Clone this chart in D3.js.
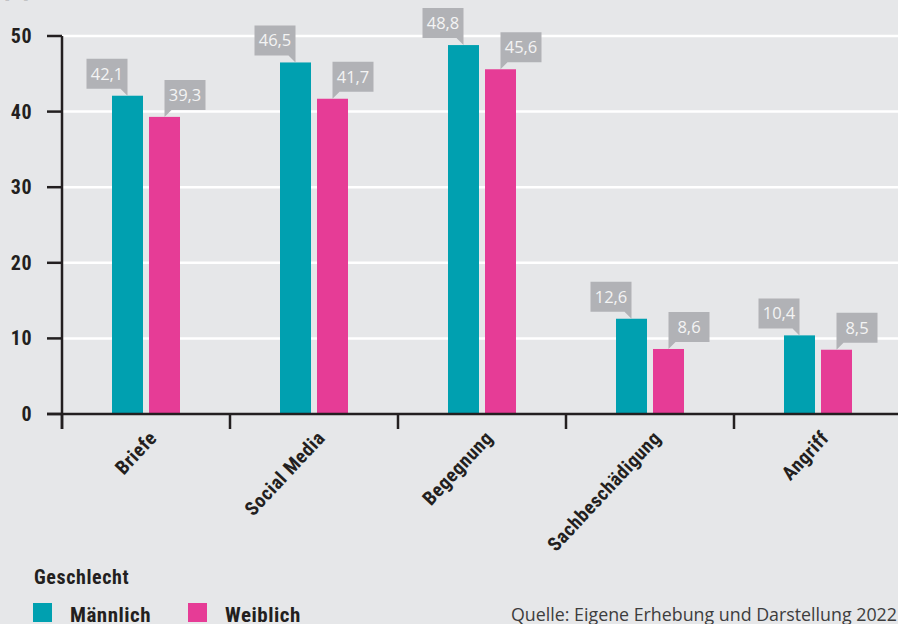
<!DOCTYPE html>
<html>
<head>
<meta charset="utf-8">
<script src="https://cdn.jsdelivr.net/npm/d3@7/dist/d3.min.js"></script>
<style>
  html, body { margin: 0; padding: 0; background: #e6e7e9; }
  svg { display: block; }
  .bold { font-family: "Liberation Sans Narrow", "Roboto Condensed", "Arial Narrow", "Liberation Sans", sans-serif; font-weight: bold; fill: #231f20; }
  .light { font-family: "Open Sans", "DejaVu Sans", sans-serif; font-weight: 400; }
</style>
</head>
<body>
<svg id="chart" width="898" height="624"></svg>
<script>
// Kategorien und Werte (Angaben in Prozent)
const categories = ["Briefe", "Social Media", "Begegnung", "Sachbeschädigung", "Angriff"];
const maleValues = [42.1, 46.5, 48.8, 12.6, 10.4];
const femaleValues = [39.3, 41.7, 45.6, 8.6, 8.5];
const yTicks = [0, 10, 20, 30, 40, 50];
const seriesNames = ["Männlich", "Weiblich"];
const legendTitle = "Geschlecht";
const unitLabel = "[%]";
const sourceNote = "Quelle: Eigene Erhebung und Darstellung 2022";

const colors = { male: "#00a0b0", female: "#e63c96", box: "#b1b2b6", ink: "#231f20" };

const svg = d3.select("#chart");
const W = 898, H = 624;

svg.append("rect").attr("width", W).attr("height", H).attr("fill", "#e6e7e9");

const x = d3.scaleBand().domain(categories).range([62, 902]).padding(0);
const y = d3.scaleLinear().domain([0, 50]).range([414, 36]);

const barW = 31, gap = 6;

// Einheit (oben angeschnitten)
svg.append("text").attr("class", "light")
  .attr("x", 4).attr("y", -2)
  .attr("font-size", 17).attr("fill", "#5a5a5a")
  .text(unitLabel);

// Gitterlinien
svg.append("g").selectAll("line")
  .data(yTicks.filter(d => d > 0))
  .join("line")
  .attr("x1", 62).attr("x2", W)
  .attr("y1", d => y(d)).attr("y2", d => y(d))
  .attr("stroke", "#ffffff").attr("stroke-width", 2.5);

// Balken
const groups = svg.append("g").selectAll("g")
  .data(categories)
  .join("g");

groups.append("rect")
  .attr("x", (d) => x(d) + x.bandwidth() / 2 - gap / 2 - barW)
  .attr("y", (d, i) => y(maleValues[i]))
  .attr("width", barW)
  .attr("height", (d, i) => y(0) - y(maleValues[i]))
  .attr("fill", colors.male);

groups.append("rect")
  .attr("x", (d) => x(d) + x.bandwidth() / 2 + gap / 2)
  .attr("y", (d, i) => y(femaleValues[i]))
  .attr("width", barW)
  .attr("height", (d, i) => y(0) - y(femaleValues[i]))
  .attr("fill", colors.female);

// Wertelabels als Sprechblasen
const fmt = v => d3.format(".1f")(v).replace(".", ",");
const boxW = 41, boxH = 30, tail = 7;

function bubble(cx, top, value, side) {
  // side = -1: Blase links vom Ankerpunkt, side = 1: rechts
  const by = top - tail - boxH;
  const bx = side < 0 ? cx - boxW : cx;
  const g = svg.append("g");
  let path;
  if (side < 0) {
    path = `M${bx},${by} H${bx + boxW} V${top} L${bx + boxW - tail},${by + boxH} H${bx} Z`;
  } else {
    path = `M${bx},${by} H${bx + boxW} V${by + boxH} H${bx + tail} L${bx},${top} Z`;
  }
  g.append("path").attr("d", path).attr("fill", colors.box);
  g.append("text").attr("class", "light")
    .attr("x", bx + boxW / 2).attr("y", by + boxH / 2 + 6)
    .attr("text-anchor", "middle")
    .attr("font-size", 16.5).attr("fill", "#f4f4f4")
    .text(fmt(value));
}

categories.forEach((c, i) => {
  const mid = x(c) + x.bandwidth() / 2;
  bubble(mid - gap / 2 - barW / 2, y(maleValues[i]), maleValues[i], -1);
  bubble(mid + gap / 2 + barW / 2, y(femaleValues[i]), femaleValues[i], 1);
});

// Y-Achse
const yAxis = svg.append("g");
yAxis.append("line")
  .attr("x1", 62).attr("x2", 62).attr("y1", y(50)).attr("y2", y(0) + 15)
  .attr("stroke", colors.ink).attr("stroke-width", 2.5);
yAxis.selectAll("line.tick")
  .data(yTicks)
  .join("line").attr("class", "tick")
  .attr("x1", 47).attr("x2", 62)
  .attr("y1", d => y(d)).attr("y2", d => y(d))
  .attr("stroke", colors.ink).attr("stroke-width", 2.5);
yAxis.selectAll("text")
  .data(yTicks)
  .join("text").attr("class", "bold")
  .attr("x", 32).attr("y", d => y(d) + 7)
  .attr("text-anchor", "end")
  .attr("font-size", 20).attr("letter-spacing", 0.5)
  .text(d => d);

// X-Achse
const xAxis = svg.append("g");
xAxis.append("line")
  .attr("x1", 47).attr("x2", W).attr("y1", y(0)).attr("y2", y(0))
  .attr("stroke", colors.ink).attr("stroke-width", 2.5);
xAxis.selectAll("line.tick")
  .data(categories)
  .join("line").attr("class", "tick")
  .attr("x1", d => x(d)).attr("x2", d => x(d))
  .attr("y1", y(0)).attr("y2", y(0) + 15)
  .attr("stroke", colors.ink).attr("stroke-width", 2.5);
xAxis.selectAll("text")
  .data(categories)
  .join("text").attr("class", "bold")
  .attr("transform", d => `translate(${x(d) + x.bandwidth() / 2 + 12},${y(0) + 25}) rotate(-47)`)
  .attr("text-anchor", "end")
  .attr("font-size", 19.5).attr("letter-spacing", 0.5)
  .text(d => d);

// Legende
svg.append("text").attr("class", "bold")
  .attr("x", 34).attr("y", 584).attr("font-size", 20).attr("letter-spacing", 0.6)
  .text(legendTitle);

const legendItems = [
  { name: seriesNames[0], color: colors.male, x: 33 },
  { name: seriesNames[1], color: colors.female, x: 188 }
];
const lg = svg.append("g").selectAll("g").data(legendItems).join("g");
lg.append("rect")
  .attr("x", d => d.x).attr("y", 603).attr("width", 19).attr("height", 19)
  .attr("fill", d => d.color);
lg.append("text").attr("class", "bold")
  .attr("x", d => d.x + 37).attr("y", 622).attr("font-size", 21).attr("letter-spacing", 0.5)
  .text(d => d.name);

// Quellenangabe
svg.append("text").attr("class", "light")
  .attr("x", 511).attr("y", 621)
  .attr("font-size", 18).attr("fill", "#3d3d3d")
  .attr("textLength", 386).attr("lengthAdjust", "spacingAndGlyphs")
  .text(sourceNote);
</script>
</body>
</html>
